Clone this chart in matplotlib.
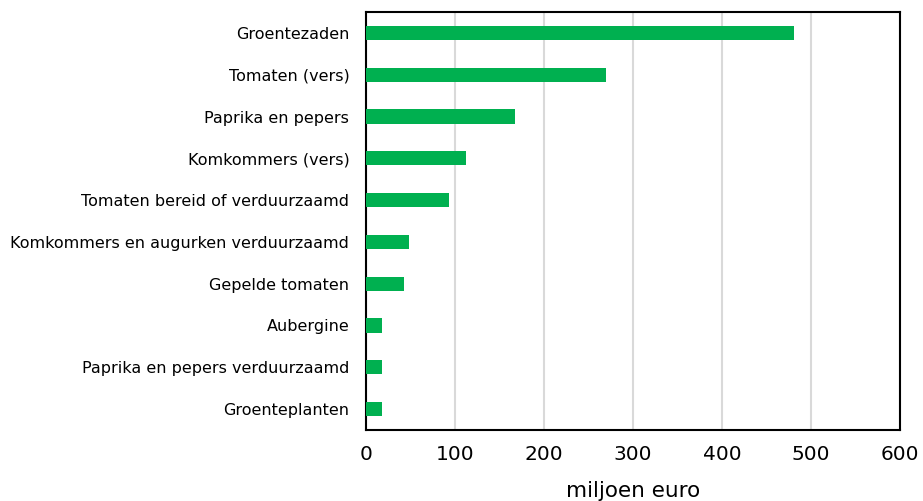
import matplotlib
matplotlib.use("Agg")
import matplotlib.pyplot as plt

categories = ["Groentezaden", "Tomaten (vers)", "Paprika en pepers", "Komkommers (vers)",
              "Tomaten bereid of verduurzaamd", "Komkommers en augurken verduurzaamd",
              "Gepelde tomaten", "Aubergine", "Paprika en pepers verduurzaamd", "Groenteplanten"]
values = [481, 270, 167, 112, 93, 48.5, 42.5, 18.5, 18.5, 17.5]
xticks = [0, 100, 200, 300, 400, 500, 600]

plt.rcParams['font.family'] = ['DejaVu Sans']
fig = plt.figure(figsize=(9.23, 5.01), dpi=100)
ax = fig.add_axes([366/923, 1-430/501, (900-366)/923, (430-12)/501])

ypos = list(range(len(categories)))
ax.barh(ypos, values, height=0.34, color="#00B050", zorder=3)
ax.set_ylim(len(categories)-0.5, -0.5)
ax.set_yticks(ypos)
ax.set_yticklabels(categories, fontsize=11.5)
ax.set_xlim(0, 600)
ax.set_xticks(xticks)
ax.set_xticklabels([str(t) for t in xticks], fontsize=14.5)
ax.tick_params(axis='y', length=0, pad=12)
ax.tick_params(axis='x', length=0, pad=11)
ax.grid(axis='x', color="#D9D9D9", linewidth=1.5, zorder=0)
for s in ax.spines.values():
    s.set_color("black")
    s.set_linewidth(1.5)
ax.set_xlabel("miljoen euro", fontsize=15.5, labelpad=12)

fig.savefig("out.png", dpi=100)
